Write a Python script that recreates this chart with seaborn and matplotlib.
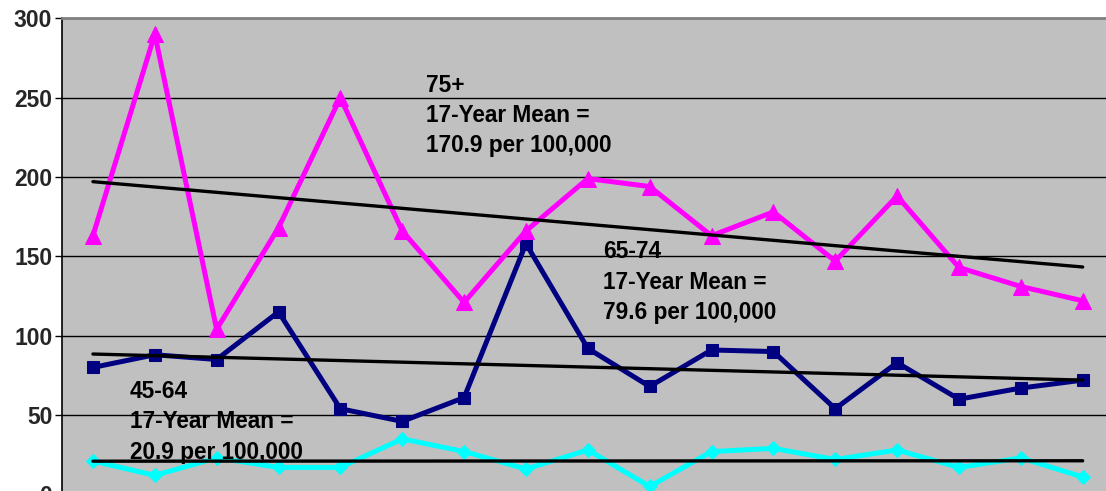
import numpy as np
import pandas as pd
import matplotlib
matplotlib.use("Agg")
import matplotlib.pyplot as plt
import seaborn as sns

# Rates per 100,000 over 17 years, by age group
years = list(range(17))
rate_75_plus = [163, 290, 104, 168, 250, 166, 121, 166, 199, 194, 163, 178, 147, 188, 143, 131, 122]
rate_65_74 = [80, 88, 85, 115, 54, 46, 61, 158, 92, 68, 91, 90, 54, 83, 60, 67, 72]
rate_45_64 = [21, 12, 23, 17, 17, 35, 27, 16, 28, 5, 27, 29, 22, 28, 17, 23, 11]
y_ticks = [0, 50, 100, 150, 200, 250, 300]

labels = ["75+\n17-Year Mean =\n170.9 per 100,000",
          "65-74\n17-Year Mean =\n79.6 per 100,000",
          "45-64\n17-Year Mean =\n20.9 per 100,000"]

sns.set_theme(style="white")
plt.rcParams["font.family"] = ["Liberation Sans", "DejaVu Sans"]

df = pd.DataFrame({
    "year": years * 3,
    "rate": rate_75_plus + rate_65_74 + rate_45_64,
    "group": ["75+"] * 17 + ["65-74"] * 17 + ["45-64"] * 17,
})

fig = plt.figure(figsize=(11.06, 4.91), dpi=100)
W, H = 1106, 491
x0_px, top_px, zero_px = 62, 18.3, 494.4
ax = fig.add_axes([x0_px / W, (H - zero_px) / H, (W - x0_px) / W, (zero_px - top_px) / H])
ax.set_facecolor("#C0C0C0")

styles = {
    "75+": dict(color="#FF00FF", marker="^", ms=11),
    "65-74": dict(color="#000080", marker="s", ms=9),
    "45-64": dict(color="#00FFFF", marker="D", ms=7),
}

for grp in ["45-64", "65-74", "75+"]:
    sub = df[df["group"] == grp]
    st = styles[grp]
    sns.lineplot(data=sub, x="year", y="rate", ax=ax, color=st["color"],
                 marker=st["marker"], markersize=st["ms"], markeredgecolor=st["color"],
                 linewidth=3.6, legend=False, zorder=3)
    sns.regplot(data=sub, x="year", y="rate", ax=ax, scatter=False, ci=None,
                truncate=True, line_kws=dict(color="black", linewidth=2.4, zorder=4))

ax.set_xlim(-0.5, -0.5 + (W - x0_px) / 61.86)
ax.set_ylim(0, 300)
ax.set_yticks(y_ticks)
ax.set_yticklabels([str(t) for t in y_ticks], fontsize=16.5, fontweight="bold")
ax.set_xticks([])
ax.set_xlabel("")
ax.set_ylabel("")
ax.grid(False)
for t in y_ticks[1:-1]:
    ax.axhline(t, color="black", linewidth=1.0, zorder=1)
ax.tick_params(axis="y", direction="out", length=5, width=1, color="black", pad=2, left=True)

for side in ["right", "bottom"]:
    ax.spines[side].set_visible(False)
ax.spines["left"].set_color("black")
ax.spines["left"].set_linewidth(1.2)
ax.spines["top"].set_color("#808080")
ax.spines["top"].set_linewidth(2)

text_kw = dict(fontsize=16.3, fontweight="bold", color="black", va="top", ha="left",
               linespacing=1.4, zorder=5)
ax.text(5.38, 265, labels[0], **text_kw)
ax.text(8.24, 160, labels[1], **text_kw)
ax.text(0.6, 72, labels[2], **text_kw)

fig.savefig("out.png", dpi=100)
